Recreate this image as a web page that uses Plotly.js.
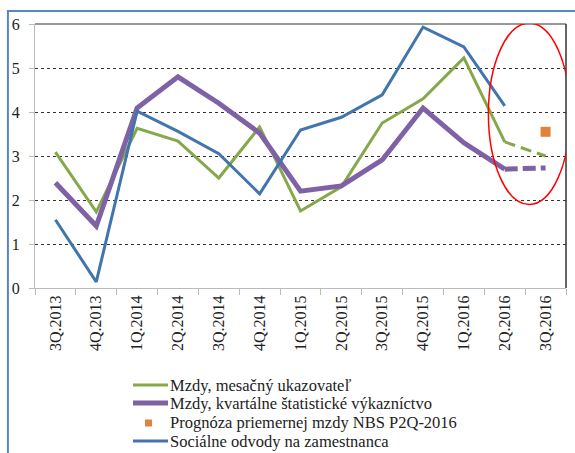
<!DOCTYPE html>
<html><head><meta charset="utf-8">
<script src="https://cdn.plot.ly/plotly-3.0.1.min.js"></script>
<style>body{margin:0;padding:0;background:#fff}#c{width:575px;height:453px}</style>
</head><body><div id="c"></div>
<script>
const categories = ["3Q.2013","4Q.2013","1Q.2014","2Q.2014","3Q.2014","4Q.2014","1Q.2015","2Q.2015","3Q.2015","4Q.2015","1Q.2016","2Q.2016","3Q.2016"];
const mzdyMesacny = [3.09,1.73,3.63,3.34,2.50,3.66,1.75,2.30,3.75,4.30,5.23,3.32,null];
const mzdyMesacnyForecast = [null,null,null,null,null,null,null,null,null,null,null,3.32,3.00];
const mzdyKvartalne = [2.39,1.41,4.09,4.80,4.20,3.52,2.20,2.32,2.91,4.09,3.30,2.70,null];
const mzdyKvartalneForecast = [null,null,null,null,null,null,null,null,null,null,null,2.70,2.73];
const prognoza = [null,null,null,null,null,null,null,null,null,null,null,null,3.55];
const socialneOdvody = [1.55,0.14,4.02,3.56,3.05,2.14,3.59,3.88,4.39,5.93,5.48,4.14,null];
const names = ["Mzdy, mesačný ukazovateľ","Mzdy, kvartálne štatistické výkazníctvo","Prognóza priemernej mzdy NBS P2Q-2016","Sociálne odvody na zamestnanca"];
const cGreen="#86a84a", cPurple="#7f62a6", cBlue="#4275ad", cOrange="#e0843c";
const SERIF = "Times New Roman, Liberation Serif, Tinos, Nimbus Roman, DejaVu Serif, serif";

const traces = [
 {x:categories,y:mzdyMesacny,name:names[0],type:"scatter",mode:"lines",line:{color:cGreen,width:3}},
 {x:categories,y:mzdyKvartalne,name:names[1],type:"scatter",mode:"lines",line:{color:cPurple,width:5}},
 {x:categories,y:prognoza,name:names[2],type:"scatter",mode:"markers",marker:{color:cOrange,symbol:"square",size:10}},
 {x:categories,y:socialneOdvody,name:names[3],type:"scatter",mode:"lines",line:{color:cBlue,width:3}},
 {x:categories,y:mzdyMesacnyForecast,showlegend:false,type:"scatter",mode:"lines",line:{color:cGreen,width:3,dash:"11px,6px"}},
 {x:categories,y:mzdyKvartalneForecast,showlegend:false,type:"scatter",mode:"lines",line:{color:cPurple,width:5,dash:"13px,5px"}}
];

// manual legend (paper coordinates)
const X = px => (px-35)/531, Y = py => (288-py)/264;
const legendRows = [
 {name:names[0],kind:"line",color:cGreen,width:3,y:385},
 {name:names[1],kind:"line",color:cPurple,width:5,y:403},
 {name:names[2],kind:"square",color:cOrange,y:423},
 {name:names[3],kind:"line",color:cBlue,width:3,y:441}
];
const legendShapes = legendRows.map(r => r.kind==="line"
 ? {type:"line",xref:"paper",yref:"paper",x0:X(133),x1:X(168),y0:Y(r.y),y1:Y(r.y),line:{color:r.color,width:r.width}}
 : {type:"rect",xref:"paper",yref:"paper",x0:X(145),x1:X(152),y0:Y(r.y+3.5),y1:Y(r.y-3.5),fillcolor:r.color,line:{width:0}});
const legendAnns = legendRows.map(r => ({xref:"paper",yref:"paper",x:X(168),y:Y(r.y),text:r.name,showarrow:false,xanchor:"left",yanchor:"middle",font:{family:SERIF,size:16.5,color:"#222"}}));

const layout = {
 width:575,height:453,
 margin:{l:35,r:9,t:24,b:165},
 paper_bgcolor:"#fff",plot_bgcolor:"#fff",
 font:{family:SERIF,color:"#222",size:15},
 showlegend:false,
 xaxis:{type:"category",range:[-0.5,12.5],tickson:"boundaries",ticks:"outside",ticklen:6,tickcolor:"#bbb",automargin:false,
   showline:true,linecolor:"#bbb",linewidth:1,showgrid:false,tickangle:-90,
   tickfont:{size:16,family:SERIF,color:"#222"},fixedrange:true},
 yaxis:{range:[0,6],dtick:1,ticks:"outside",ticklen:5,tickcolor:"#bbb",showline:true,linecolor:"#bbb",linewidth:1,automargin:false,
   showgrid:true,gridcolor:"#333",griddash:"dot",gridwidth:1,zeroline:false,
   tickfont:{size:16,family:SERIF,color:"#222"},ticklabelstandoff:6,fixedrange:true},
 annotations:legendAnns,
 shapes:[
  {type:"line",xref:"paper",yref:"paper",x0:0,x1:1,y0:1,y1:1,line:{color:"#333",width:1},layer:"above"},
  {type:"line",xref:"paper",yref:"paper",x0:1,x1:1,y0:0,y1:1,line:{color:"#333",width:1.5},layer:"above"},
  {type:"rect",xref:"paper",yref:"paper",x0:-0.051,x1:1.2,y0:-1,y1:1.049,line:{color:"#5b86c4",width:2},layer:"below"},
  {type:"circle",xref:"x",yref:"y",x0:10.6,x1:12.6,y0:1.9,y1:6.02,line:{color:"#ff0000",width:1.5}}
 ].concat(legendShapes)
};
Plotly.newPlot("c",traces,layout,{displayModeBar:false,staticPlot:true});
</script></body></html>
